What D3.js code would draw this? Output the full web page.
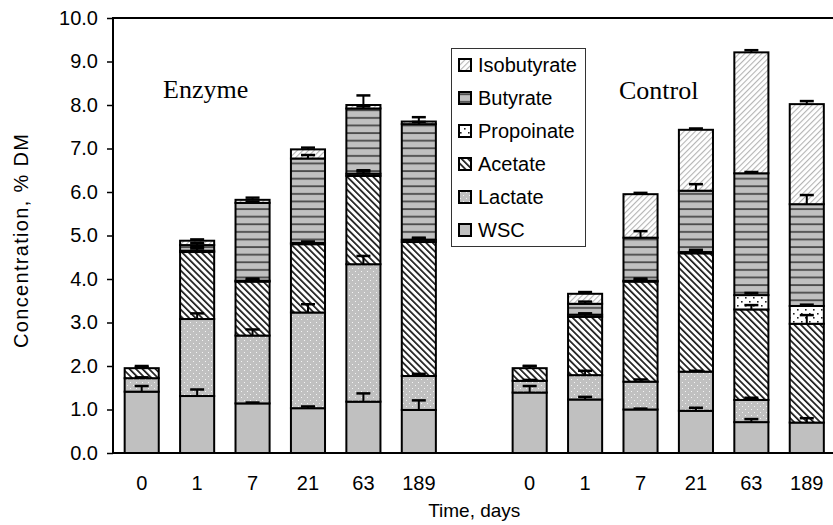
<!DOCTYPE html>
<html>
<head>
<meta charset="utf-8">
<script src="https://cdn.jsdelivr.net/npm/d3@7"></script>
<style>
  body { margin: 0; background: #fff; }
  svg { display: block; }
</style>
</head>
<body>
<script>
/* global d3 */

// bars: Enzyme days then Control days
const groups = ['Enzyme', 'Control'];
const days = ['0', '1', '7', '21', '63', '189'];
const seriesNames = ['WSC', 'Lactate', 'Acetate', 'Propoinate', 'Butyrate', 'Isobutyrate'];
const yTicks = [0, 1, 2, 3, 4, 5, 6, 7, 8, 9, 10];

const wsc = [1.41, 1.31, 1.14, 1.03, 1.18, 0.99, 1.39, 1.23, 1.00, 0.97, 0.71, 0.70];
const lactate = [0.31, 1.77, 1.56, 2.20, 3.16, 0.78, 0.27, 0.56, 0.64, 0.90, 0.51, 0.00];
const acetate = [0.23, 1.54, 1.24, 1.57, 2.03, 3.08, 0.29, 1.34, 2.30, 2.72, 2.08, 2.27];
const propionate = [0.00, 0.03, 0.02, 0.03, 0.05, 0.05, 0.00, 0.05, 0.02, 0.03, 0.33, 0.41];
const butyrate = [0.00, 0.13, 1.79, 1.94, 1.50, 2.66, 0.00, 0.25, 0.99, 1.41, 2.80, 2.34];
const isobutyrate = [0.00, 0.10, 0.07, 0.21, 0.08, 0.06, 0.00, 0.23, 1.00, 1.40, 2.78, 2.30];

const wscErr = [0.13, 0.15, 0.02, 0.04, 0.19, 0.22, 0.15, 0.06, 0.02, 0.07, 0.07, 0.10];
const lactateErr = [0.02, 0.13, 0.14, 0.19, 0.19, 0.05, 0.02, 0.10, 0.05, 0.02, 0.05, 0.00];
const acetateErr = [0.02, 0.12, 0.07, 0.05, 0.13, 0.10, 0.05, 0.07, 0.07, 0.08, 0.10, 0.20];
const propionateErr = [0, 0.05, 0.02, 0.03, 0.05, 0.03, 0, 0.03, 0.02, 0.03, 0.05, 0.03];
const butyrateErr = [0, 0.05, 0.03, 0.08, 0.05, 0.05, 0, 0.05, 0.15, 0.15, 0.03, 0.21];
const isobutyrateErr = [0.05, 0.03, 0.05, 0.04, 0.22, 0.10, 0.05, 0.04, 0.03, 0.03, 0.05, 0.07];

const seriesValues = [wsc, lactate, acetate, propionate, butyrate, isobutyrate];
const seriesErrors = [wscErr, lactateErr, acetateErr, propionateErr, butyrateErr, isobutyrateErr];
const fills = ['#c0c0c0', 'url(#p-lactate)', 'url(#p-acetate)', 'url(#p-propionate)', 'url(#p-butyrate)', 'url(#p-isobutyrate)'];

const width = 833;
const height = 525;

// one row per bar, one empty slot between the groups
const rows = [];
groups.forEach((g, gi) => {
  days.forEach((d, di) => {
    const row = { key: `${g}-${d}`, day: d };
    seriesNames.forEach((s, si) => { row[s] = seriesValues[si][gi * days.length + di]; });
    rows.push(row);
  });
});
const slots = rows.slice(0, 6).map(r => r.key).concat(['gap'], rows.slice(6).map(r => r.key));

const x = d3.scaleBand()
  .domain(slots)
  .range([114, 834.5])
  .paddingInner(0.385)
  .paddingOuter(0.1925);

const y = d3.scaleLinear()
  .domain([0, 10])
  .range([453, 18]);

const stacked = d3.stack().keys(seriesNames)(rows);

const svg = d3.select('body').append('svg')
  .attr('width', width)
  .attr('height', height)
  .style('font-family', '"Liberation Sans", Arial, sans-serif');

const defs = svg.append('defs');

const lac = defs.append('pattern')
  .attr('id', 'p-lactate')
  .attr('patternUnits', 'userSpaceOnUse')
  .attr('width', 6)
  .attr('height', 6);
lac.append('rect').attr('width', 6).attr('height', 6).attr('fill', '#c0c0c0');
lac.append('rect').attr('x', 1).attr('y', 1).attr('width', 1).attr('height', 1).attr('fill', '#f4f4f4');
lac.append('rect').attr('x', 4).attr('y', 4).attr('width', 1).attr('height', 1).attr('fill', '#f4f4f4');

const ace = defs.append('pattern')
  .attr('id', 'p-acetate')
  .attr('patternUnits', 'userSpaceOnUse')
  .attr('width', 4.6)
  .attr('height', 10)
  .attr('patternTransform', 'rotate(-45)');
ace.append('rect').attr('width', 4.6).attr('height', 10).attr('fill', '#fff');
ace.append('rect').attr('width', 1.7).attr('height', 10).attr('fill', '#1a1a1a');

const pro = defs.append('pattern')
  .attr('id', 'p-propionate')
  .attr('patternUnits', 'userSpaceOnUse')
  .attr('width', 8)
  .attr('height', 8);
pro.append('rect').attr('width', 8).attr('height', 8).attr('fill', '#fff');
pro.append('rect').attr('x', 1).attr('y', 1).attr('width', 1.6).attr('height', 1.6).attr('fill', '#222');
pro.append('rect').attr('x', 5).attr('y', 5).attr('width', 1.6).attr('height', 1.6).attr('fill', '#222');

const but = defs.append('pattern')
  .attr('id', 'p-butyrate')
  .attr('patternUnits', 'userSpaceOnUse')
  .attr('width', 8)
  .attr('height', 7.6);
but.append('rect').attr('width', 8).attr('height', 7.6).attr('fill', '#c0c0c0');
but.append('rect').attr('y', 3).attr('width', 8).attr('height', 1.8).attr('fill', '#4a4a4a');

const iso = defs.append('pattern')
  .attr('id', 'p-isobutyrate')
  .attr('patternUnits', 'userSpaceOnUse')
  .attr('width', 4)
  .attr('height', 10)
  .attr('patternTransform', 'rotate(45)');
iso.append('rect').attr('width', 4).attr('height', 10).attr('fill', '#fff');
iso.append('rect').attr('width', 1.1).attr('height', 10).attr('fill', '#b4b4b4');

// bars
svg.append('g')
  .selectAll('g')
  .data(stacked)
  .enter().append('g')
    .attr('fill', (d, i) => fills[i])
  .selectAll('rect')
  .data(d => d.filter(p => p[1] - p[0] > 0))
  .enter().append('rect')
    .attr('x', d => x(d.data.key))
    .attr('y', d => y(d[1]))
    .attr('width', x.bandwidth())
    .attr('height', d => y(d[0]) - y(d[1]))
    .attr('stroke', '#000')
    .attr('stroke-width', 2);

// error bars (plus side only)
const errs = [];
stacked.forEach((layer, si) => {
  layer.forEach((p, bi) => {
    const e = seriesErrors[si][bi];
    if (e > 0 || p[1] - p[0] > 0) errs.push({ key: p.data.key, top: p[1], err: e });
  });
});

const errG = svg.append('g')
  .attr('stroke', '#000')
  .attr('stroke-width', 2);

errG.selectAll('.stem')
  .data(errs)
  .enter().append('line')
    .attr('class', 'stem')
    .attr('x1', d => x(d.key) + x.bandwidth() / 2)
    .attr('x2', d => x(d.key) + x.bandwidth() / 2)
    .attr('y1', d => y(d.top))
    .attr('y2', d => y(d.top + d.err));

errG.selectAll('.cap')
  .data(errs)
  .enter().append('line')
    .attr('class', 'cap')
    .attr('x1', d => x(d.key) + x.bandwidth() / 2 - 7)
    .attr('x2', d => x(d.key) + x.bandwidth() / 2 + 7)
    .attr('y1', d => y(d.top + d.err))
    .attr('y2', d => y(d.top + d.err))
    .attr('stroke-width', 2.5);

// plot frame
svg.append('rect')
  .attr('x', x.range()[0] - 1)
  .attr('y', y(10))
  .attr('width', x.range()[1] - x.range()[0] + 1)
  .attr('height', y(0) - y(10))
  .attr('fill', 'none')
  .attr('stroke', '#000')
  .attr('stroke-width', 2);

// y axis
const yAxis = svg.append('g')
  .attr('transform', `translate(${x.range()[0] - 1},0)`)
  .call(d3.axisLeft(y).tickValues(yTicks).tickFormat(d3.format('.1f')).tickSize(6).tickPadding(9));
yAxis.select('.domain').remove();
yAxis.selectAll('line').attr('stroke', '#000').attr('stroke-width', 1.5);
yAxis.selectAll('text')
  .attr('fill', '#000')
  .style('font-size', '20px')
  .style('font-family', '"Liberation Sans", Arial, sans-serif');

// x axis
const xAxis = svg.append('g')
  .attr('transform', `translate(0,${y(0)})`)
  .call(d3.axisBottom(x).tickSize(0).tickPadding(23)
    .tickFormat(k => (k === 'gap' ? '' : k.split('-')[1])));
xAxis.select('.domain').remove();
xAxis.selectAll('text')
  .attr('fill', '#000')
  .style('font-size', '20px')
  .style('font-family', '"Liberation Sans", Arial, sans-serif');

// titles
svg.append('text')
  .attr('x', (x.range()[0] + x.range()[1]) / 2)
  .attr('y', 517)
  .attr('text-anchor', 'middle')
  .style('font-size', '19px')
  .text('Time, days');

svg.append('text')
  .attr('transform', 'translate(28,241) rotate(-90)')
  .attr('text-anchor', 'middle')
  .attr('textLength', 214)
  .attr('lengthAdjust', 'spacing')
  .style('font-size', '20px')
  .text('Concentration, % DM');

// group labels
svg.append('text')
  .attr('x', 163)
  .attr('y', 98)
  .style('font-family', '"Liberation Serif", "Times New Roman", serif')
  .style('font-size', '26px')
  .text('Enzyme');

svg.append('text')
  .attr('x', 619)
  .attr('y', 99)
  .style('font-family', '"Liberation Serif", "Times New Roman", serif')
  .style('font-size', '26px')
  .text('Control');

// legend
const legend = svg.append('g');

legend.append('rect')
  .attr('x', 451.5)
  .attr('y', 48.5)
  .attr('width', 134)
  .attr('height', 198)
  .attr('fill', '#fff')
  .attr('stroke', '#333')
  .attr('stroke-width', 1);

const legendOrder = d3.range(seriesNames.length).reverse();

const item = legend.selectAll('.item')
  .data(legendOrder)
  .enter().append('g')
    .attr('class', 'item')
    .attr('transform', (d, i) => `translate(459,${65 + i * 33})`);

item.append('rect')
  .attr('x', 0)
  .attr('y', -6)
  .attr('width', 12)
  .attr('height', 12)
  .attr('fill', d => fills[d])
  .attr('stroke', '#000')
  .attr('stroke-width', 2);

item.append('text')
  .attr('x', 19)
  .attr('y', 7)
  .style('font-size', '20px')
  .text(d => seriesNames[d]);
</script>
</body>
</html>
